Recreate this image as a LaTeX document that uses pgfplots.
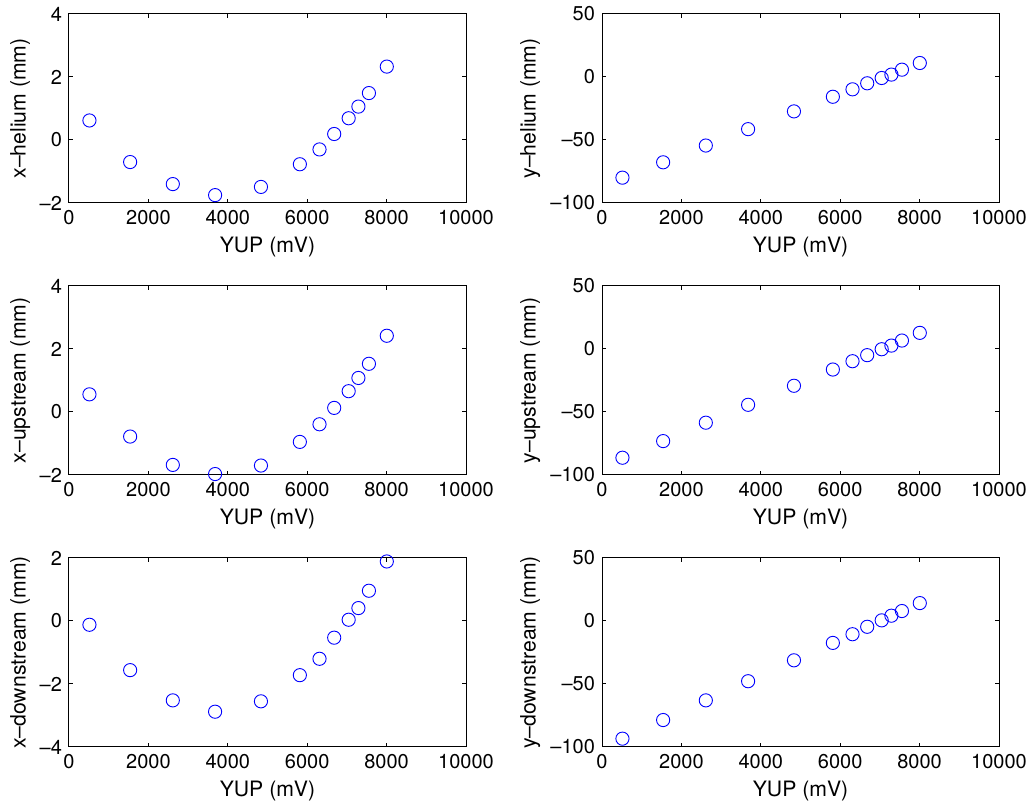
\documentclass[border=0pt]{standalone}
\usepackage{fontspec}
\setmainfont{TeX Gyre Heros}
\usepackage{pgfplots}
\pgfplotsset{compat=1.18}

% common MATLAB-like subplot look
\pgfplotsset{
  mlab/.style={
    scale only axis, width=198.5pt, height=94.5pt, anchor=south west,
    xmin=0, xmax=10000, xtick={0,2000,4000,6000,8000,10000},
    xticklabels={0,2000,4000,6000,8000,10000}, scaled ticks=false,
    tick align=inside, tick pos=both, major tick length=2pt,
    axis line style={line width=0.5pt}, every tick/.style={black, line width=0.5pt},
    tick label style={font=\fontsize{10}{12}\selectfont},
    label style={font=\fontsize{10.6}{12}\selectfont},
    xlabel={YUP (mV)},
    xlabel style={at={(axis description cs:0.5,-0.235)}, anchor=center},
  },
  pts/.style={draw=blue, only marks, mark=o, mark size=3.3pt, line width=0.45pt},
  lcol/.style={ylabel style={at={(axis description cs:-0.123,0.5)}, anchor=center}},
  rcol/.style={ylabel style={at={(axis description cs:-0.181,0.5)}, anchor=center},
    ymin=-100, ymax=50, ytick={-100,-50,0,50},
    yticklabels={\textendash100,\textendash50,0,50}},
}

\begin{document}
\begin{tikzpicture}
\path[use as bounding box] (0,0) rectangle (517pt,403.5pt);

% row 1
\begin{axis}[mlab, lcol, at={(34.5pt,302pt)},
  ymin=-2, ymax=4, ytick={-2,0,2,4}, yticklabels={\textendash2,0,2,4},
  ylabel={x\textendash helium (mm)}]
\addplot[pts] coordinates {
  (515,0.62)(1540,-0.70)(2615,-1.40)(3680,-1.75)(4835,-1.49)(5815,-0.77)
  (6310,-0.30)(6680,0.19)(7045,0.69)(7290,1.06)(7555,1.49)(8005,2.33)};
\end{axis}
\begin{axis}[mlab, rcol, at={(301pt,302pt)}, ylabel={y\textendash helium (mm)}]
\addplot[pts] coordinates {
  (515,-79.9)(1540,-67.7)(2615,-54.4)(3680,-41.4)(4835,-27.3)(5815,-15.7)
  (6310,-9.8)(6680,-5.0)(7045,-0.8)(7290,1.9)(7555,5.8)(8005,11.1)};
\end{axis}

% row 2
\begin{axis}[mlab, lcol, at={(34.5pt,166pt)},
  ymin=-2, ymax=4, ytick={-2,0,2,4}, yticklabels={\textendash2,0,2,4},
  ylabel={x\textendash upstream (mm)}]
\addplot[pts] coordinates {
  (515,0.56)(1540,-0.78)(2615,-1.68)(3680,-1.97)(4835,-1.70)(5815,-0.95)
  (6310,-0.39)(6680,0.13)(7045,0.66)(7290,1.08)(7555,1.53)(8005,2.42)};
\end{axis}
\begin{axis}[mlab, rcol, at={(301pt,166pt)}, ylabel={y\textendash upstream (mm)}]
\addplot[pts] coordinates {
  (515,-86.3)(1540,-73.1)(2615,-58.5)(3680,-44.3)(4835,-29.2)(5815,-16.3)
  (6310,-9.7)(6680,-4.9)(7045,-0.2)(7290,2.7)(7555,6.7)(8005,12.8)};
\end{axis}

% row 3
\begin{axis}[mlab, lcol, at={(34.5pt,30pt)},
  ymin=-4, ymax=2, ytick={-4,-2,0,2}, yticklabels={\textendash4,\textendash2,0,2},
  ylabel={x\textendash downstream (mm)}]
\addplot[pts] coordinates {
  (515,-0.12)(1540,-1.56)(2615,-2.52)(3680,-2.88)(4835,-2.55)(5815,-1.72)
  (6310,-1.20)(6680,-0.53)(7045,0.04)(7290,0.41)(7555,0.96)(8005,1.89)};
\end{axis}
\begin{axis}[mlab, rcol, at={(301pt,30pt)}, ylabel={y\textendash downstream (mm)}]
\addplot[pts] coordinates {
  (515,-93.4)(1540,-78.6)(2615,-63.0)(3680,-47.8)(4835,-31.2)(5815,-17.4)
  (6310,-10.5)(6680,-4.6)(7045,0.5)(7290,4.2)(7555,7.9)(8005,14.2)};
\end{axis}
\end{tikzpicture}
\end{document}
